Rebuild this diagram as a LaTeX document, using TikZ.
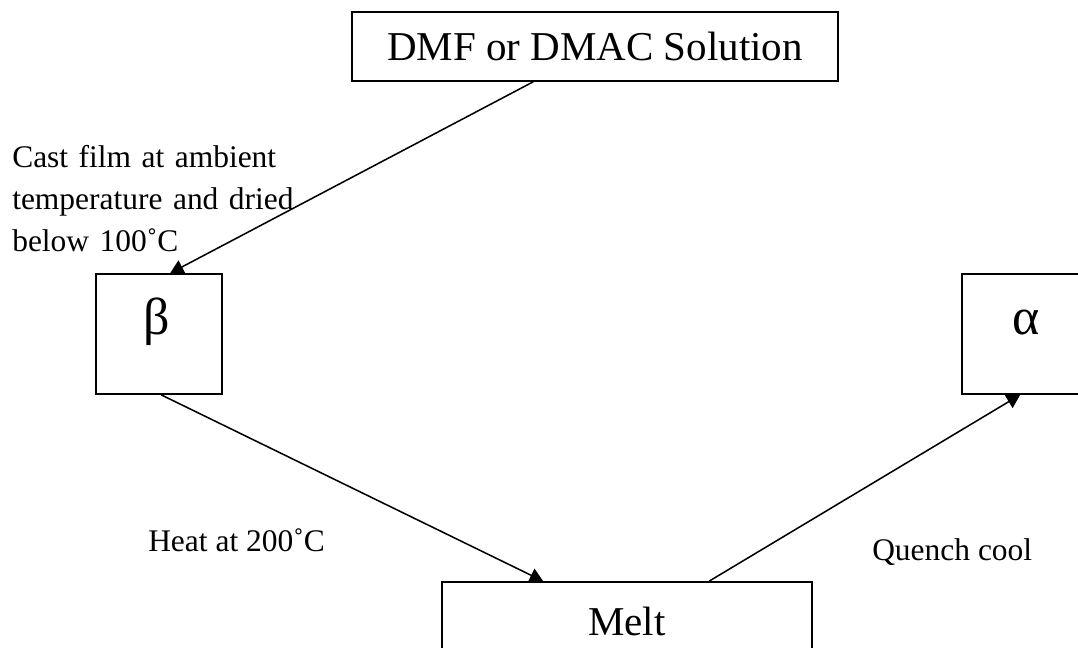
\documentclass[tikz,border=0pt]{standalone}
\usepackage{fontspec}
\setmainfont{Liberation Serif}
\usetikzlibrary{arrows.meta,calc}
\definecolor{inkline}{HTML}{000000}
\definecolor{paper}{HTML}{FFFFFF}
\tikzset{
  phasebox/.style={
    draw=inkline,
    line width=1.25pt,
    inner sep=0pt,
    fill=paper,
    font=\fontsize{30.75}{36}\selectfont
  },
  phasesym/.style={inner sep=0pt, font=\fontsize{39}{44}\selectfont},
  caption/.style={inner sep=0pt, font=\fontsize{23.6}{31.5}\selectfont},
  flow/.style={-{Triangle[length=10pt,width=11pt]}, line width=1.15pt, draw=inkline}
}

\begin{document}
\begin{tikzpicture}[x=0.75pt,y=-0.75pt]

\useasboundingbox[fill=paper] (0,0) rectangle (1078,648);

\node[phasebox, minimum width=364.5pt, minimum height=51.75pt] (dmf) at (595,46.5) {DMF or DMAC Solution};
\node[phasebox, minimum width=94.5pt, minimum height=90pt] (betabox) at (159,334) {};
\node[phasebox, minimum width=94.5pt, minimum height=90pt] (alphabox) at (1025,334) {};
\node[phasebox, minimum width=277.5pt, minimum height=58.5pt] (melt) at (627,621) {Melt};

\node[phasesym] (beta) at (157,322) {β};
\node[phasesym] (alpha) at (1026,322) {α};

\draw[flow] ($(dmf.south west)+(182,0)$) -- ($(betabox.north west)+(75,0)$);
\draw[flow] ($(betabox.south west)+(66,0)$) -- ($(melt.north west)+(102,0)$);
\draw[flow] ($(melt.north west)+(268,0)$) -- ($(alphabox.south west)+(59,0)$);

\node[caption, anchor=north west, align=left, text width=208.5pt] (cast) at (12,145)
  {\makebox[208.5pt][s]{Cast film at ambient}\\
   \makebox[208.5pt][s]{temperature and dried}\\
   below 100˚C};
\node[caption, anchor=base west] (heat) at (148,551) {Heat at 200˚C};
\node[caption, anchor=base west] (quench) at (872,560) {Quench cool};

\end{tikzpicture}
\end{document}
